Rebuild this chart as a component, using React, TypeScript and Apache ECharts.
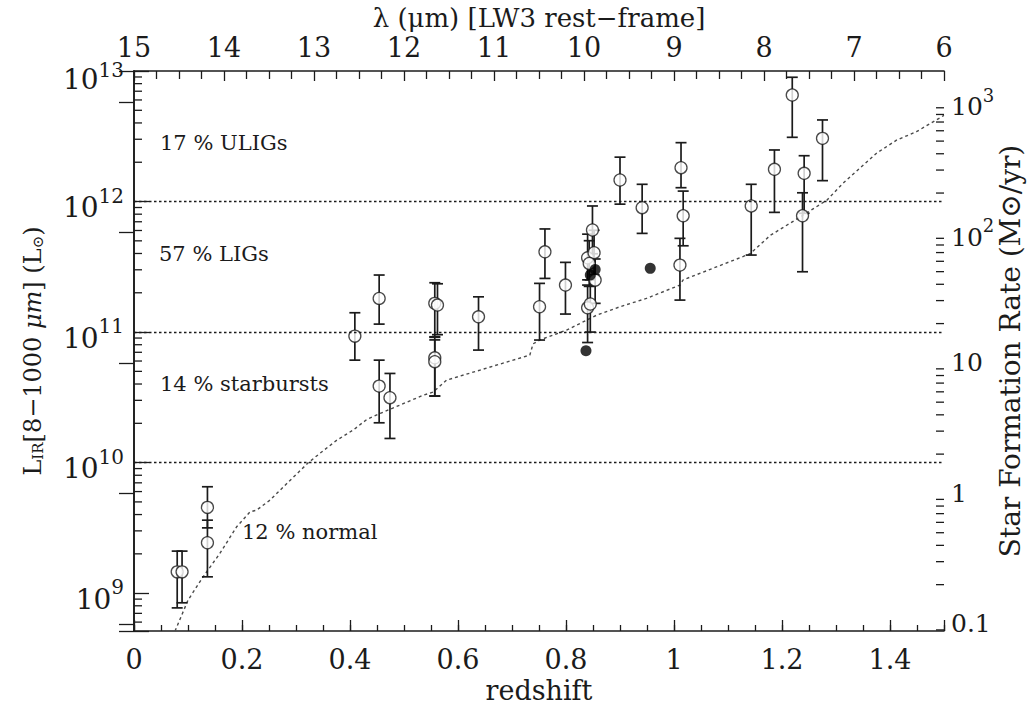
import { useEffect, useRef } from "react";
import * as echarts from "echarts";

// ---------- data ----------
// y range of the left axis, in log10(L_IR / Lsun)
const LOG_L_MIN = 8.71;
const LOG_L_MAX = 13;
// right axis: log10(SFR) = log10(L_IR) - SFR_LOG_OFFSET
const SFR_LOG_OFFSET = 9.764;

// open circles with error bars: redshift, log10 L_IR, lower and upper ends of the bar
const openZ = [
  0.08, 0.089, 0.136, 0.136, 0.409, 0.454, 0.454, 0.474, 0.557, 0.562, 0.557, 0.557,
  0.638, 0.751, 0.761, 0.799, 0.849, 0.84, 0.852, 0.843, 0.854, 0.84, 0.845, 0.9,
  0.941, 1.013, 1.017, 1.011, 1.143, 1.186, 1.219, 1.275, 1.241, 1.238,
];
const openLogL = [
  9.163, 9.163, 9.657, 9.386, 10.969, 11.258, 10.586, 10.497, 11.22, 11.207, 10.803, 10.773,
  11.117, 11.194, 11.615, 11.36, 11.782, 11.569, 11.608, 11.526, 11.398, 11.186, 11.215, 12.165,
  11.953, 12.259, 11.891, 11.513, 11.966, 12.247, 12.816, 12.484, 12.216, 11.891,
];
const openLogLo = [
  8.887, 8.926, 9.5, 9.125, 10.785, 11.061, 10.305, 10.185, 10.964, 10.98, 10.51, 10.51,
  10.862, 10.939, 11.411, 11.138, 11.6, 11.4, 11.44, 11.35, 11.22, 10.92, 11.0, 11.98,
  11.756, 12.106, 11.661, 11.245, 11.59, 11.917, 12.492, 12.16, 11.91, 11.462,
];
const openLogHi = [
  9.322, 9.322, 9.815, 9.559, 11.148, 11.437, 10.785, 10.683, 11.378, 11.37, 10.94, 10.96,
  11.27, 11.373, 11.79, 11.534, 11.966, 11.75, 11.78, 11.7, 11.56, 11.36, 11.4, 12.34,
  12.132, 12.451, 12.08, 11.718, 12.132, 12.395, 12.952, 12.625, 12.351, 12.067,
];

// filled circles (no error bars)
const filledZ = [0.837, 0.845, 0.854, 0.956];
const filledLogL = [10.857, 11.437, 11.48, 11.488];

// dotted detection-limit curve
const limitZ = [
  0.076, 0.1, 0.128, 0.159, 0.19, 0.215, 0.227, 0.252, 0.283, 0.323, 0.344, 0.375, 0.406,
  0.431, 0.456, 0.536, 0.554, 0.579, 0.641, 0.702, 0.733, 0.739, 0.752, 0.801, 0.857, 0.9,
  0.949, 1.011, 1.017, 1.104, 1.141, 1.178, 1.233, 1.283, 1.313, 1.375, 1.412, 1.449, 1.5,
];
const limitLogL = [
  8.71, 8.946, 9.125, 9.304, 9.508, 9.623, 9.636, 9.713, 9.84, 10.0, 10.07, 10.17, 10.25,
  10.33, 10.377, 10.517, 10.54, 10.632, 10.709, 10.785, 10.824, 10.91, 10.94, 11.015, 11.13, 11.194,
  11.258, 11.36, 11.4, 11.54, 11.6, 11.74, 11.88, 12.01, 12.14, 12.37, 12.47, 12.535, 12.66,
];

// class boundaries (log10 L_IR) and class labels
const classBoundaries = [10, 11, 12];
const classLabels = ["17 % ULIGs", "57 % LIGs", "14 % starbursts", "12 % normal"];

const xTitle = "redshift";
const topTitle = "λ (μm) [LW3 rest−frame]";
const leftTitle = "{a|L}{s|IR}{a|[8−1000 }{i|μm}{a|] (L}{s|⊙}{a|)}";
const rightTitle = "Star Formation Rate (M⊙/yr)";

// ---------- style ----------
const FONT = '"DejaVu Serif", "Liberation Serif", serif';
const INK = "#1b1b1b";
const labelPos: [number, number][] = [
  [160, 144],
  [159, 255],
  [160, 385],
  [242, 533],
];

const p10 = (v: number) => Math.pow(10, v);

function minorLogValues(lo: number, hi: number): number[] {
  const out: number[] = [];
  for (let d = Math.floor(lo); d <= Math.ceil(hi); d++) {
    for (let m = 2; m <= 9; m++) {
      const v = m * Math.pow(10, d);
      const lv = Math.log10(v);
      if (lv > lo && lv < hi) out.push(v);
    }
  }
  return out;
}

function powLabel(v: number, plainUpTo: number, topExp: number) {
  const lv = Math.log10(v);
  const e = Math.round(lv);
  if (Math.abs(lv - e) > 1e-6) return "";
  if (e <= plainUpTo) return `{p|${String(Number(Math.pow(10, e).toPrecision(6)))}}`;
  if (e === topExp) return `{bt|10}{st|${e}}`;
  return `{b|10}{s|${e}}`;
}

const leftRich = {
  b: { fontFamily: FONT, fontSize: 28, color: INK, verticalAlign: "bottom", padding: [12, 0, 0, 0] },
  s: { fontFamily: FONT, fontSize: 20, color: INK, verticalAlign: "top", padding: [4, 0, 0, 0] },
  bt: { fontFamily: FONT, fontSize: 28, color: INK, verticalAlign: "bottom", padding: [16, 0, 0, 0] },
  st: { fontFamily: FONT, fontSize: 20, color: INK, verticalAlign: "top", padding: [11, 0, 0, 0] },
};
const rightRich = {
  p: { fontFamily: FONT, fontSize: 25, color: INK },
  b: { fontFamily: FONT, fontSize: 25, color: INK, verticalAlign: "bottom", padding: [10, 0, 0, 0] },
  s: { fontFamily: FONT, fontSize: 18, color: INK, verticalAlign: "top", padding: [2, 0, 0, 0] },
};

function sideTicks(side: "left" | "right", len: number) {
  return (params: any, api: any) => {
    const cs = params.coordSys;
    const y = api.coord([0, api.value(1)])[1];
    const x0 = side === "left" ? cs.x : cs.x + cs.width;
    const x1 = side === "left" ? cs.x + len : cs.x + cs.width - len;
    return {
      type: "line",
      shape: { x1: x0, y1: y, x2: x1, y2: y },
      style: { stroke: INK, lineWidth: 1.3 },
    };
  };
}

export default function App() {
  const ref = useRef<HTMLDivElement>(null);

  useEffect(() => {
    if (!ref.current) return;
    const chart = echarts.init(ref.current, undefined, { renderer: "svg" });

    const axisLine = { show: true, lineStyle: { color: INK, width: 1.6 } };
    const tickStyle = { color: INK, width: 1.3 };

    const errData = openZ.map((z, i) => [z, p10(openLogLo[i]), p10(openLogHi[i])]);
    const openData = openZ.map((z, i) => [z, p10(openLogL[i])]);
    const filledData = filledZ.map((z, i) => [z, p10(filledLogL[i])]);
    const limitData = limitZ.map((z, i) => [z, p10(limitLogL[i])]);

    const leftMinor = minorLogValues(LOG_L_MIN, LOG_L_MAX).map((v) => [0, v]);
    const rightMinor = minorLogValues(LOG_L_MIN - SFR_LOG_OFFSET, LOG_L_MAX - SFR_LOG_OFFSET).map((v) => [0, v]);

    chart.setOption({
      animation: false,
      backgroundColor: "#ffffff",
      grid: {
        left: 134,
        right: 88,
        top: 71,
        bottom: 75,
        show: false,
        containLabel: false,
        outerBoundsMode: "none",
      },
      xAxis: [
        {
          type: "value",
          min: 0,
          max: 1.5,
          interval: 0.05,
          position: "bottom",
          axisLine,
          axisTick: { show: true, inside: true, length: 6, lineStyle: tickStyle },
          axisLabel: { show: false },
          splitLine: { show: false },
        },
        {
          type: "value",
          min: 0,
          max: 1.5,
          interval: 0.2,
          position: "bottom",
          axisLine: { show: false },
          axisTick: { show: true, inside: true, length: 11, lineStyle: tickStyle },
          axisLabel: {
            fontFamily: FONT,
            fontSize: 27,
            color: INK,
            margin: 15,
            formatter: (v: number) => (v > 1.45 ? "" : String(Number(v.toFixed(2)))),
          },
          splitLine: { show: false },
          name: xTitle,
          nameLocation: "middle",
          nameGap: 46,
          nameMoveOverlap: false,
          nameTextStyle: { fontFamily: FONT, fontSize: 27, color: INK },
        },
        {
          type: "value",
          min: 6,
          max: 15,
          interval: 1,
          inverse: true,
          position: "top",
          axisLine,
          axisTick: { show: true, inside: true, length: 10, lineStyle: tickStyle },
          minorTick: { show: true, splitNumber: 4, length: 8, lineStyle: tickStyle },
          axisLabel: { fontFamily: FONT, fontSize: 27, color: INK, margin: 10 },
          splitLine: { show: false },
          minorSplitLine: { show: false },
          name: topTitle,
          nameLocation: "middle",
          nameGap: 40,
          nameMoveOverlap: false,
          nameTextStyle: { fontFamily: FONT, fontSize: 26, color: INK },
        },
      ],
      yAxis: [
        {
          type: "log",
          logBase: 10,
          min: p10(LOG_L_MIN),
          max: p10(LOG_L_MAX),
          position: "left",
          axisLine,
          axisTick: { show: true, inside: true, length: 15, lineStyle: tickStyle },
          axisLabel: {
            margin: 10,
            formatter: (v: number) => powLabel(v, -100, LOG_L_MAX),
            rich: leftRich,
          },
          splitLine: { show: false },
          name: leftTitle,
          nameLocation: "middle",
          nameRotate: 90,
          nameGap: 89,
          nameMoveOverlap: false,
          nameTextStyle: {
            fontFamily: FONT,
            fontSize: 24,
            color: INK,
            rich: {
              a: { fontFamily: FONT, fontSize: 24, color: INK },
              i: { fontFamily: FONT, fontSize: 24, color: INK, fontStyle: "italic" },
              s: { fontFamily: FONT, fontSize: 15, color: INK, verticalAlign: "bottom" },
            },
          },
        },
        {
          type: "log",
          logBase: 10,
          min: p10(LOG_L_MIN - SFR_LOG_OFFSET),
          max: p10(LOG_L_MAX - SFR_LOG_OFFSET),
          position: "right",
          axisLine,
          axisTick: { show: true, inside: true, length: 15, lineStyle: tickStyle },
          axisLabel: {
            margin: 7,
            formatter: (v: number) => powLabel(v, 1, 100),
            rich: rightRich,
          },
          splitLine: { show: false },
          name: rightTitle,
          nameLocation: "middle",
          nameRotate: 90,
          nameGap: 52,
          nameMoveOverlap: false,
          nameTextStyle: { fontFamily: FONT, fontSize: 28, color: INK },
        },
      ],
      graphic: classLabels.map((t, i) => ({
        type: "text",
        left: labelPos[i][0],
        top: labelPos[i][1] - 12,
        style: { text: t, fontFamily: FONT, fontSize: 21, fill: INK },
        z: 10,
      })),
      series: [
        {
          type: "line",
          name: "limit",
          xAxisIndex: 0,
          yAxisIndex: 0,
          data: limitData,
          showSymbol: false,
          symbol: "none",
          clip: true,
          lineStyle: { color: "#4a4a4a", width: 1.4, type: [3, 3] },
          markLine: {
            silent: true,
            symbol: "none",
            label: { show: false },
            lineStyle: { color: INK, width: 1.4, type: [2.5, 2.5] },
            data: classBoundaries.map((b) => ({ yAxis: p10(b) })),
          },
          z: 2,
        },
        {
          type: "custom",
          name: "errors",
          xAxisIndex: 0,
          yAxisIndex: 0,
          data: errData,
          renderItem: (params: any, api: any) => {
            const z = api.value(0);
            const lo = api.coord([z, api.value(1)]);
            const hi = api.coord([z, api.value(2)]);
            const w = 5.5;
            const style = { stroke: INK, lineWidth: 1.7, fill: null };
            return {
              type: "group",
              children: [
                { type: "line", shape: { x1: lo[0], y1: lo[1], x2: hi[0], y2: hi[1] }, style },
                { type: "line", shape: { x1: lo[0] - w, y1: lo[1], x2: lo[0] + w, y2: lo[1] }, style },
                { type: "line", shape: { x1: hi[0] - w, y1: hi[1], x2: hi[0] + w, y2: hi[1] }, style },
              ],
            };
          },
          z: 3,
        },
        {
          type: "scatter",
          name: "open",
          xAxisIndex: 0,
          yAxisIndex: 0,
          data: openData,
          symbol: "circle",
          symbolSize: 12,
          itemStyle: { color: "#ffffff", borderColor: INK, borderWidth: 1.3 },
          z: 4,
        },
        {
          type: "scatter",
          name: "filled",
          xAxisIndex: 0,
          yAxisIndex: 0,
          data: filledData,
          symbol: "circle",
          symbolSize: 11,
          itemStyle: { color: "#000000" },
          z: 5,
        },
        {
          type: "custom",
          name: "leftMinorTicks",
          xAxisIndex: 0,
          yAxisIndex: 0,
          data: leftMinor,
          renderItem: sideTicks("left", 8),
          silent: true,
          z: 6,
        },
        {
          type: "custom",
          name: "rightMinorTicks",
          xAxisIndex: 0,
          yAxisIndex: 1,
          data: rightMinor,
          renderItem: sideTicks("right", 8),
          silent: true,
          z: 6,
        },
      ],
    });

    return () => chart.dispose();
  }, []);

  return (
    <div
      ref={ref}
      style={{ position: "fixed", left: 0, top: 0, width: 1032, height: 706, background: "#fff" }}
    />
  );
}
